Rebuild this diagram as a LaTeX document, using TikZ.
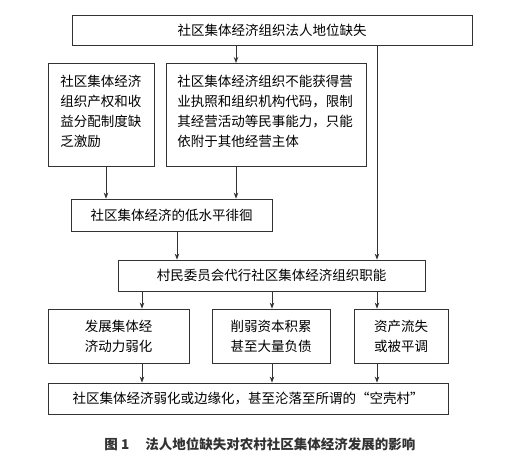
\documentclass[tikz,border=0pt]{standalone}
\usepackage{fontspec}
\setmainfont{Noto Sans CJK SC}
\usetikzlibrary{arrows.meta}
\begin{document}
\begin{tikzpicture}[x=1pt,y=-1pt,
  box/.style={draw=black!80, line width=0.8pt, rectangle, inner sep=0pt, font=\fontsize{13.5}{20}\selectfont, text=black},
  arr/.style={draw=black!80, line width=0.8pt, -{Stealth[length=6pt,width=4.5pt]}},
  ln/.style={draw=black!80, line width=0.8pt}]
\useasboundingbox[fill=white] (0,0) rectangle (518,463);
% boxes
\node[box, minimum width=400pt, minimum height=30pt] (top) at (272,30) {社区集体经济组织法人地位缺失};
\node[box, anchor=north west, inner xsep=12pt, inner ysep=0pt] (b1) at (48,63)
  {\parbox[c][103pt][t]{82pt}{\vspace*{12pt}社区集体经济\\组织产权和收\\益分配制度缺\\乏激励}};
\node[box, anchor=north west, inner xsep=11pt, inner ysep=0pt] (b2) at (166,63)
  {\parbox[c][103pt][t]{178pt}{\vspace*{12pt}社区集体经济组织不能获得营\\业执照和组织机构代码，限制\\其经营活动等民事能力，只能\\依附于其他经营主体}};
\node[box, minimum width=201pt, minimum height=32pt] (b3) at (171.5,215) {社区集体经济的低水平徘徊};
\node[box, minimum width=307pt, minimum height=31pt] (b4) at (271.5,275.5) {村民委员会代行社区集体经济组织职能};
\node[box, minimum width=141pt, minimum height=54pt, align=center] (b5) at (118.5,336) {发展集体经\\济动力弱化};
\node[box, minimum width=118pt, minimum height=54pt, align=center] (b6) at (271,336) {削弱资本积累\\甚至大量负债};
\node[box, minimum width=94pt, minimum height=54pt, align=center] (b7) at (401,336) {资产流失\\或被平调};
\node[box, minimum width=400pt, minimum height=31pt] (b8) at (248,398.5) {社区集体经济弱化或边缘化，甚至沦落至所谓的“空壳村”};
\node[font=\fontsize{13.5}{16}\selectfont\bfseries, text=black!80] (cap) at (260,444) {图 1\hspace{1.2em}法人地位缺失对农村社区集体经济发展的影响};
% x positions of connectors
\coordinate (xa) at (236,0);
\coordinate (xb) at (106,0);
\coordinate (xc) at (177,0);
\coordinate (xd) at (377,0);
\coordinate (xe) at (142,0);
\coordinate (xf) at (272,0);
% connectors
\draw[arr] (top.south -| xa) -- (b2.north -| xa);
\draw[arr] (b1.south -| xb) -- (b3.north -| xb);
\draw[arr] (b2.south -| xa) -- (b3.north -| xa);
\draw[arr] (b3.south -| xc) -- (b4.north -| xc);
\draw[arr] (top.south -| xd) -- (b4.north -| xd);
\draw[arr] (b4.south -| xe) -- (b5.north -| xe);
\draw[arr] (b4.south -| xf) -- (b6.north -| xf);
\draw[arr] (b4.south -| xd) -- (b7.north -| xd);
\draw[arr] (b5.south -| xe) -- (b8.north -| xe);
\draw[arr] (b6.south -| xf) -- (b8.north -| xf);
\draw[arr] (b7.south -| xd) -- (b8.north -| xd);
\end{tikzpicture}
\end{document}
